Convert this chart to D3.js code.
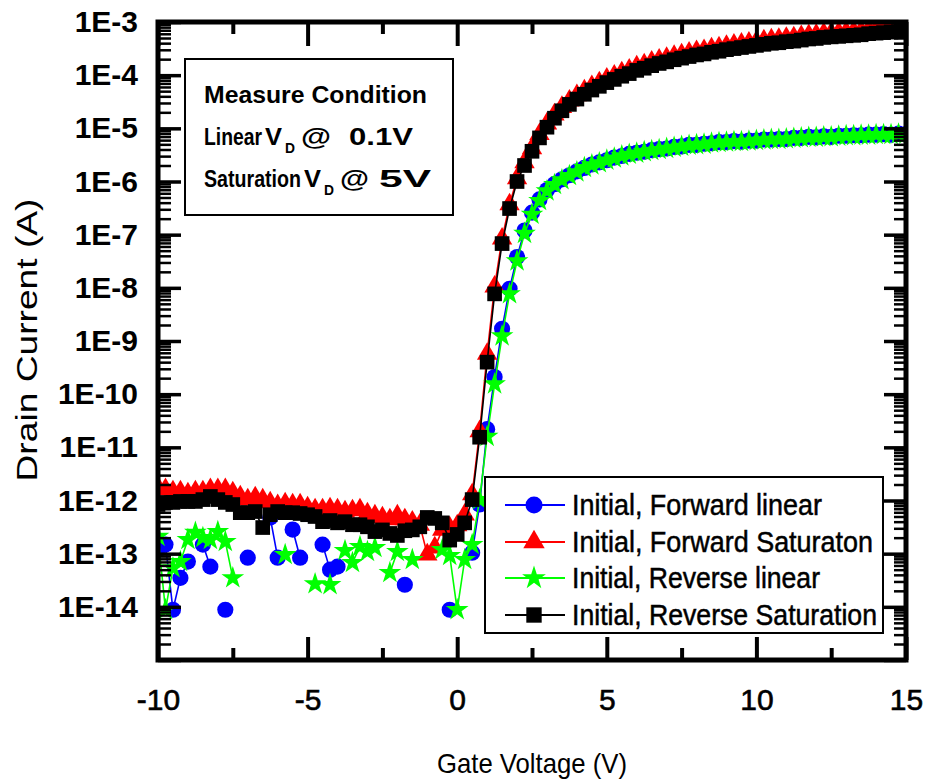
<!DOCTYPE html>
<html>
<head>
<meta charset="utf-8">
<script src="https://cdn.jsdelivr.net/npm/d3@7"></script>
<style>
  html, body { margin: 0; padding: 0; background: #fff; }
  svg { display: block; }
</style>
</head>
<body>
<svg id="chart" width="930" height="782"></svg>
<script>
// gate voltage sweep (V), 0.25 V step as measured
var gateVoltage = [-10, -9.75, -9.5, -9.25, -9, -8.75, -8.5, -8.25, -8, -7.75,
  -7.5, -7.25, -7, -6.75, -6.5, -6.25, -6, -5.75, -5.5, -5.25,
  -5, -4.75, -4.5, -4.25, -4, -3.75, -3.5, -3.25, -3, -2.75,
  -2.5, -2.25, -2, -1.75, -1.5, -1.25, -1, -0.75, -0.5, -0.25,
  0, 0.25, 0.5, 0.75, 1, 1.25, 1.5, 1.75, 2, 2.25,
  2.5, 2.75, 3, 3.25, 3.5, 3.75, 4, 4.25, 4.5, 4.75,
  5, 5.25, 5.5, 5.75, 6, 6.25, 6.5, 6.75, 7, 7.25,
  7.5, 7.75, 8, 8.25, 8.5, 8.75, 9, 9.25, 9.5, 9.75,
  10, 10.25, 10.5, 10.75, 11, 11.25, 11.5, 11.75, 12, 12.25,
  12.5, 12.75, 13, 13.25, 13.5, 13.75, 14, 14.25, 14.5, 14.75, 15];

// drain current (A); null = point not shown (below range / not positive)
var fwdLinear = [1.19e-13, 1.48e-13, 8.8e-15, 3.5e-14, 7.1e-14, null, 1.48e-13, 5.7e-14, null, 8.8e-15,
  null, null, 8.4e-14, null, null, 4.8e-13, 8.4e-14, null, 2.84e-13, 8.4e-14,
  null, null, 1.48e-13, 5.0e-14, 5.7e-14, null, null, null, null, null,
  null, null, null, 2.6e-14, null, null, null, null, null, 8.8e-15,
  null, null, 1.04e-13, 8.4e-13, 2.2e-11, 2.1e-10, 1.7e-9, 9.6e-9, 3.8e-8, 1.2e-7,
  2.6e-7, 4.6e-7, 6.9e-7, 8.9e-7, 1.10e-6, 1.31e-6, 1.55e-6, 1.80e-6, 2.09e-6, 2.29e-6,
  2.51e-6, 2.82e-6, 3.02e-6, 3.31e-6, 3.47e-6, 3.63e-6, 3.89e-6, 4.07e-6, 4.17e-6, 4.47e-6,
  4.57e-6, 4.90e-6, 4.90e-6, 5.13e-6, 5.25e-6, 5.50e-6, 5.50e-6, 5.75e-6, 5.62e-6, 5.89e-6,
  5.89e-6, 6.17e-6, 6.17e-6, 6.31e-6, 6.31e-6, 6.61e-6, 6.61e-6, 6.92e-6, 6.76e-6, 7.08e-6,
  6.92e-6, 7.24e-6, 7.24e-6, 7.41e-6, 7.41e-6, 7.59e-6, 7.59e-6, 7.76e-6, 7.59e-6, 7.94e-6, 7.76e-6];

var fwdSaturation = [1.76e-12, 1.62e-12, 1.48e-12, 1.48e-12, 1.36e-12, 1.48e-12, 1.48e-12, 1.62e-12, 1.62e-12, 1.62e-12,
  1.42e-12, 1.19e-12, 1.04e-12, 1.14e-12, 1.04e-12, 9.2e-13, 8.1e-13, 8.8e-13, 8.4e-13, 8.4e-13,
  7.4e-13, 6.8e-13, 6.8e-13, 7.1e-13, 6.8e-13, 6.2e-13, 6.5e-13, 6.8e-13, 5.7e-13, 5.2e-13,
  4.8e-13, 4.4e-13, 5.2e-13, 4.4e-13, 4.0e-13, 3.5e-13, 9.6e-14, 1.3e-13, 2.8e-13, 3.1e-13,
  3.4e-13, 5.4e-13, 1.30e-12, 2.0e-11, 5.7e-10, 1.05e-8, 8.4e-8, 3.7e-7, 1.14e-6, 2.29e-6,
  4.2e-6, 7.76e-6, 1.23e-5, 1.82e-5, 2.51e-5, 3.31e-5, 4.17e-5, 5.13e-5, 6.17e-5, 7.24e-5,
  8.51e-5, 9.77e-5, 1.12e-4, 1.26e-4, 1.45e-4, 1.58e-4, 1.78e-4, 1.95e-4, 2.09e-4, 2.29e-4,
  2.45e-4, 2.63e-4, 2.82e-4, 2.95e-4, 3.16e-4, 3.31e-4, 3.55e-4, 3.72e-4, 3.89e-4, 4.07e-4,
  4.27e-4, 4.47e-4, 4.68e-4, 4.79e-4, 5.01e-4, 5.13e-4, 5.37e-4, 5.62e-4, 5.75e-4, 6.03e-4,
  6.17e-4, 6.31e-4, 6.46e-4, 6.61e-4, 6.76e-4, 7.08e-4, 7.24e-4, 7.41e-4, 7.59e-4, 7.76e-4, 7.94e-4];

var revLinear = [2.1e-13, 8.8e-15, 5.4e-14, 7.1e-14, 1.84e-13, 2.5e-13, 2.0e-13, 1.84e-13, 2.6e-13, 1.68e-13,
  3.5e-14, null, null, null, null, null, null, 9.6e-14, null, null,
  null, 2.7e-14, null, 2.6e-14, null, 1.14e-13, 6.8e-14, 1.36e-13, 1.09e-13, 1.30e-13,
  null, 4.4e-14, 1.09e-13, null, 7.7e-14, null, null, null, 1.19e-13, 9.2e-14,
  8.8e-15, 7.7e-14, 1.48e-13, 1.04e-12, 1.6e-11, 1.55e-10, 1.24e-9, 7.7e-9, 3.2e-8, 1.05e-7,
  2.40e-7, 4.37e-7, 6.61e-7, 8.71e-7, 1.07e-6, 1.29e-6, 1.51e-6, 1.82e-6, 2.04e-6, 2.24e-6,
  2.51e-6, 2.75e-6, 3.02e-6, 3.24e-6, 3.39e-6, 3.63e-6, 3.80e-6, 3.98e-6, 4.17e-6, 4.37e-6,
  4.57e-6, 4.79e-6, 4.90e-6, 5.01e-6, 5.25e-6, 5.37e-6, 5.50e-6, 5.62e-6, 5.62e-6, 5.75e-6,
  5.89e-6, 6.03e-6, 6.17e-6, 6.17e-6, 6.31e-6, 6.46e-6, 6.61e-6, 6.76e-6, 6.76e-6, 6.92e-6,
  6.92e-6, 7.08e-6, 7.24e-6, 7.24e-6, 7.41e-6, 7.41e-6, 7.59e-6, 7.59e-6, 7.59e-6, 7.76e-6, 7.76e-6];

var revSaturation = [8.4e-13, 9.2e-13, 9.2e-13, 9.6e-13, 9.6e-13, 9.6e-13, 1.04e-12, 1.19e-12, 1.04e-12, 9.2e-13,
  8.4e-13, 5.9e-13, 5.9e-13, 6.2e-13, 3.1e-13, 5.4e-13, 6.2e-13, 5.9e-13, 5.9e-13, 5.7e-13,
  5.4e-13, 5.0e-13, 4.0e-13, 4.2e-13, 3.8e-13, 4.0e-13, 3.5e-13, 3.5e-13, 3.2e-13, 2.6e-13,
  2.8e-13, 2.4e-13, 2.2e-13, 2.7e-13, 2.8e-13, 3.2e-13, 4.8e-13, 4.6e-13, 3.8e-13, 1.8e-13,
  2.3e-13, 3.8e-13, 1.04e-12, 1.55e-11, 4.0e-10, 7.7e-9, 6.8e-8, 3.1e-7, 1.0e-6, 2.0e-6,
  3.7e-6, 6.61e-6, 1.05e-5, 1.55e-5, 2.14e-5, 2.82e-5, 3.55e-5, 4.37e-5, 5.25e-5, 6.17e-5,
  7.24e-5, 8.32e-5, 9.55e-5, 1.07e-4, 1.23e-4, 1.35e-4, 1.51e-4, 1.66e-4, 1.78e-4, 1.95e-4,
  2.09e-4, 2.24e-4, 2.40e-4, 2.51e-4, 2.69e-4, 2.82e-4, 3.02e-4, 3.16e-4, 3.31e-4, 3.47e-4,
  3.63e-4, 3.80e-4, 3.98e-4, 4.07e-4, 4.27e-4, 4.37e-4, 4.57e-4, 4.79e-4, 4.90e-4, 5.13e-4,
  5.25e-4, 5.37e-4, 5.50e-4, 5.62e-4, 5.75e-4, 6.03e-4, 6.17e-4, 6.31e-4, 6.46e-4, 6.61e-4, 6.76e-4];

var seriesNames = ['Initial, Forward linear', 'Initial, Forward Saturaton', 'Initial, Reverse linear', 'Initial, Reverse Saturation'];
var xTickValues = [-10, -5, 0, 5, 10, 15];
var xMinorValues = [-7.5, -2.5, 2.5, 7.5, 12.5];
var yTickExponents = [-14, -13, -12, -11, -10, -9, -8, -7, -6, -5, -4, -3];
var xTitle = 'Gate Voltage (V)';
var yTitle = 'Drain Current (A)';

(function () {
  'use strict';

  var FONT = '"Liberation Sans", Arial, Helvetica, sans-serif';
  var svg = d3.select('#chart');

  var pl = 158, pr = 906, pt = 22, pb = 660;
  var x = d3.scaleLinear().domain([-10, 15]).range([pl, pr]);
  var y = d3.scaleLog().domain([1e-15, 1e-3]).range([pb, pt]);

  // log minor ticks 2..9 in every decade
  var yMajor = [1e-15].concat(yTickExponents.map(function (e) { return Math.pow(10, e); }));
  var yMinor = [];
  for (var e = -15; e < -3; e++) {
    for (var m = 2; m <= 9; m++) yMinor.push(m * Math.pow(10, e));
  }

  function styleAxis(g, width) {
    g.select('.domain').remove();
    g.selectAll('.tick line').attr('stroke', '#000').attr('stroke-width', width);
    return g;
  }

  // ---- series ----
  var series = [
    { name: seriesNames[0], values: fwdLinear, color: '#0000ff', symbol: d3.symbolCircle, size: 205 },
    { name: seriesNames[1], values: fwdSaturation, color: '#ff0000', symbol: d3.symbolTriangle, size: 180 },
    { name: seriesNames[2], values: revLinear, color: '#00ff00', symbol: d3.symbolStar, size: 160 },
    { name: seriesNames[3], values: revSaturation, color: '#000000', symbol: d3.symbolSquare, size: 215 }
  ];

  svg.append('defs').append('clipPath').attr('id', 'plot-clip')
    .append('rect').attr('x', pl).attr('y', pt)
    .attr('width', pr - pl).attr('height', pb - pt);

  var plot = svg.append('g').attr('clip-path', 'url(#plot-clip)');

  var line = d3.line()
    .defined(function (d) { return d.v != null; })
    .x(function (d) { return x(d.vg); })
    .y(function (d) { return y(d.v); });

  series.forEach(function (s) {
    var pts = gateVoltage.map(function (vg, i) { return { vg: vg, v: s.values[i] }; });
    var g = plot.append('g');
    g.append('path')
      .datum(pts)
      .attr('d', line)
      .attr('fill', 'none')
      .attr('stroke', s.color)
      .attr('stroke-width', 1.6);
    g.selectAll('path.mark')
      .data(pts.filter(function (d) { return d.v != null; }))
      .enter()
      .append('path')
      .attr('class', 'mark')
      .attr('d', d3.symbol().type(s.symbol).size(s.size))
      .attr('transform', function (d) { return 'translate(' + x(d.vg) + ',' + y(d.v) + ')'; })
      .attr('fill', s.color);
  });

  // ---- axes (ticks point inward) ----
  var gx = styleAxis(svg.append('g').attr('transform', 'translate(0,' + pb + ')')
    .call(d3.axisBottom(x).tickValues(xTickValues).tickSize(-23).tickPadding(29)
      .tickFormat(function (d) { return String(d); })), 4);
  gx.selectAll('text').attr('font-family', FONT).attr('font-size', 30)
    .attr('fill', '#000').attr('stroke', '#000').attr('stroke-width', 0.6);

  styleAxis(svg.append('g').attr('transform', 'translate(0,' + pb + ')')
    .call(d3.axisBottom(x).tickValues(xMinorValues).tickSize(-12).tickFormat('')), 4);
  styleAxis(svg.append('g').attr('transform', 'translate(0,' + pt + ')')
    .call(d3.axisTop(x).tickValues(xTickValues).tickSize(-24).tickFormat('')), 4);
  styleAxis(svg.append('g').attr('transform', 'translate(0,' + pt + ')')
    .call(d3.axisTop(x).tickValues(xMinorValues).tickSize(-12).tickFormat('')), 4);

  var gy = styleAxis(svg.append('g').attr('transform', 'translate(' + pl + ',0)')
    .call(d3.axisLeft(y).tickValues(yMajor).tickSize(-23).tickPadding(20)
      .tickFormat(function (d) {
        var p = Math.round(Math.log10(d));
        return p === -15 ? '' : '1E' + p;
      })), 3.5);
  gy.selectAll('text').attr('font-family', FONT).attr('font-size', 30)
    .attr('font-weight', 'bold').attr('fill', '#000');

  styleAxis(svg.append('g').attr('transform', 'translate(' + pl + ',0)')
    .call(d3.axisLeft(y).tickValues(yMinor).tickSize(-13).tickFormat('')), 2.5);
  styleAxis(svg.append('g').attr('transform', 'translate(' + pr + ',0)')
    .call(d3.axisRight(y).tickValues(yMajor).tickSize(-22).tickFormat('')), 3.5);
  styleAxis(svg.append('g').attr('transform', 'translate(' + pr + ',0)')
    .call(d3.axisRight(y).tickValues(yMinor).tickSize(-12).tickFormat('')), 2.5);

  // frame
  svg.append('rect')
    .attr('x', pl).attr('y', pt)
    .attr('width', pr - pl).attr('height', pb - pt)
    .attr('fill', 'none').attr('stroke', '#000').attr('stroke-width', 5);

  // axis titles
  svg.append('text')
    .attr('x', 532).attr('y', 773)
    .attr('text-anchor', 'middle')
    .attr('font-family', FONT).attr('font-size', 28)
    .attr('textLength', 190).attr('lengthAdjust', 'spacingAndGlyphs')
    .text(xTitle);

  svg.append('text')
    .attr('transform', 'translate(37,340) rotate(-90)')
    .attr('text-anchor', 'middle')
    .attr('font-family', FONT).attr('font-size', 30)
    .attr('textLength', 283).attr('lengthAdjust', 'spacingAndGlyphs')
    .text(yTitle);

  // ---- measure condition box ----
  var note = svg.append('g');
  note.append('rect').attr('x', 185).attr('y', 59).attr('width', 268).attr('height', 156)
    .attr('fill', '#fff').attr('stroke', '#000').attr('stroke-width', 2);

  // one text per line, pieces as tspans (subscript D drops below the baseline)
  var noteLines = [
    { y: 103, parts: [{ t: 'Measure Condition', x: 204, w: 223 }] },
    { y: 145, parts: [
      { t: 'Linear', x: 204, w: 58 },
      { t: 'V', x: 265, w: 17 },
      { t: 'D', x: 285, w: 10, sub: true },
      { t: '@', x: 301, w: 30 },
      { t: '0.1V', x: 349, w: 64 }] },
    { y: 187, parts: [
      { t: 'Saturation', x: 204, w: 97 },
      { t: 'V', x: 304, w: 17 },
      { t: 'D', x: 324, w: 10, sub: true },
      { t: '@', x: 340, w: 29 },
      { t: '5V', x: 379, w: 52 }] }
  ];
  noteLines.forEach(function (ln) {
    var t = note.append('text')
      .attr('font-family', FONT)
      .attr('font-weight', 'bold')
      .attr('font-size', 24);
    ln.parts.forEach(function (p) {
      t.append('tspan')
        .attr('x', p.x)
        .attr('y', p.sub ? ln.y + 8 : ln.y)
        .attr('font-size', p.sub ? 15 : 24)
        .attr('textLength', p.w)
        .attr('lengthAdjust', 'spacingAndGlyphs')
        .text(p.t);
    });
  });

  // ---- legend ----
  var legendWidths = [250, 301, 248, 305];
  var legendRows = [505, 542, 578, 615];
  var legend = svg.append('g');
  legend.append('rect').attr('x', 485).attr('y', 477).attr('width', 398).attr('height', 156)
    .attr('fill', '#fff').attr('stroke', '#000').attr('stroke-width', 2);

  series.forEach(function (s, i) {
    var ly = legendRows[i];
    legend.append('line')
      .attr('x1', 505).attr('x2', 565).attr('y1', ly).attr('y2', ly)
      .attr('stroke', s.color).attr('stroke-width', 1.8);
    legend.append('path')
      .attr('d', d3.symbol().type(s.symbol).size(s.size * 1.1))
      .attr('transform', 'translate(534,' + ly + ')')
      .attr('fill', s.color);
    legend.append('text')
      .attr('x', 572).attr('y', ly + 10)
      .attr('font-family', FONT).attr('font-size', 29)
      .attr('fill', '#000').attr('stroke', '#000').attr('stroke-width', 0.5)
      .attr('textLength', legendWidths[i]).attr('lengthAdjust', 'spacingAndGlyphs')
      .text(s.name);
  });
})();
</script>
</body>
</html>
